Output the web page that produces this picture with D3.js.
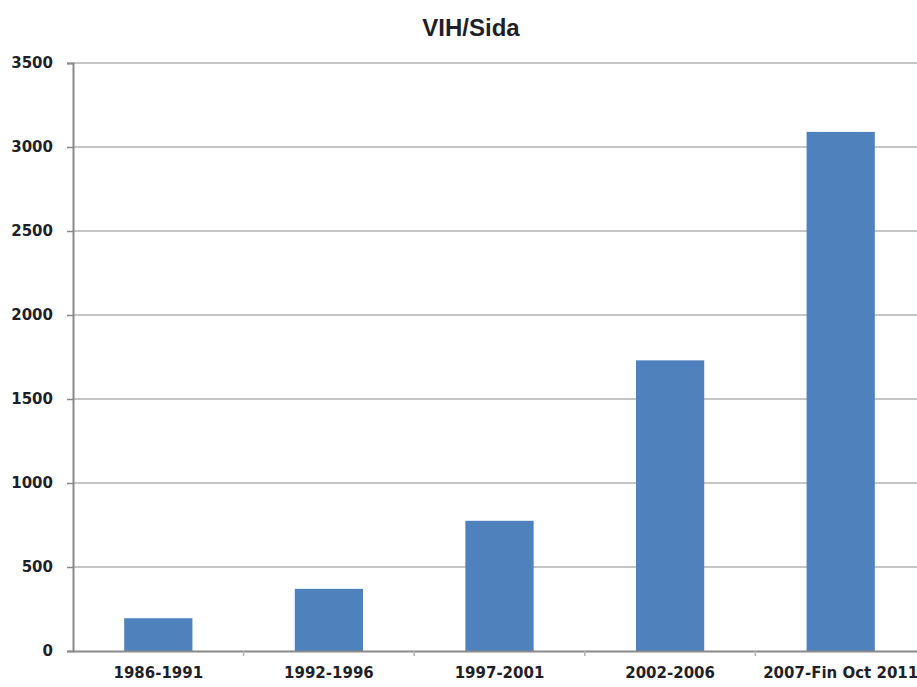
<!DOCTYPE html>
<html lang='en'>
	<head>
		<meta charset='UTF-8'>
		<title>VIH/Sida</title>
		<style>
			body { margin: 0; background: #fff; }
			text { font-family: 'Liberation Sans', Arial, sans-serif; font-weight: bold; fill: #1f1f2a; }
			.tick text { font-family: 'DejaVu Sans', sans-serif; }
		</style>
	</head>
	<body>
		<svg id='graph' width='917' height='687'></svg>

		<script src='https://d3js.org/d3.v7.min.js'></script>
		<script>
			const periods = ['1986-1991', '1992-1996', '1997-2001', '2002-2006', '2007-Fin Oct 2011']
			const cases = [195, 370, 775, 1730, 3090]
			const yTicks = [0, 500, 1000, 1500, 2000, 2500, 3000, 3500]

			const plotLeft = 73
			const plotRight = 926
			const plotTop = 63
			const plotBottom = 651

			const svg = d3.select('#graph')

			const xScale = d3.scaleBand()
				.domain(periods)
				.range([plotLeft, plotRight])
				.paddingInner(0.6)
				.paddingOuter(0.3)
			const yScale = d3.scaleLinear()
				.domain([0, 3500])
				.range([plotBottom, plotTop])

			// gridlines
			svg.append('g')
				.selectAll('line')
				.data(yTicks.slice(1))
				.enter()
				.append('line')
				.attr('x1', plotLeft)
				.attr('x2', plotRight)
				.attr('y1', (d) => yScale(d))
				.attr('y2', (d) => yScale(d))
				.attr('stroke', '#b3b3b3')
				.attr('stroke-width', 1.5)

			// bars
			svg.selectAll('rect')
				.data(periods)
				.enter()
				.append('rect')
				.attr('x', (p) => xScale(p))
				.attr('y', (p, i) => yScale(cases[i]))
				.attr('width', xScale.bandwidth())
				.attr('height', (p, i) => plotBottom - yScale(cases[i]))
				.attr('fill', '#4f81bd')

			// y axis
			const yAxis = d3.axisLeft(yScale)
				.tickValues(yTicks)
				.tickFormat(d3.format('d'))
				.tickSize(6)
				.tickPadding(14)
			const yG = svg.append('g')
				.attr('transform', `translate(${plotLeft}, 0)`)
				.call(yAxis)
			yG.select('.domain').attr('stroke', '#8a8a8a').attr('stroke-width', 2)
			yG.selectAll('.tick line').attr('stroke', '#8a8a8a').attr('stroke-width', 1.5)
			yG.selectAll('.tick text')
				.attr('font-family', null)
				.attr('font-size', 15)
				.attr('fill', null)

			// x axis
			const xAxis = d3.axisBottom(xScale)
				.tickSize(0)
				.tickPadding(16)
			const xG = svg.append('g')
				.attr('transform', `translate(0, ${plotBottom})`)
				.call(xAxis)
			xG.select('.domain').attr('stroke', '#8a8a8a').attr('stroke-width', 2)
			xG.selectAll('.tick text')
				.attr('font-family', null)
				.attr('font-size', 15)
				.attr('fill', null)

			// category separators
			xG.selectAll('.sep')
				.data(periods.slice(1))
				.enter()
				.append('line')
				.attr('x1', (p) => xScale(p) - xScale.step() * xScale.paddingInner() / 2)
				.attr('x2', (p) => xScale(p) - xScale.step() * xScale.paddingInner() / 2)
				.attr('y1', 0)
				.attr('y2', 5)
				.attr('stroke', '#b3b3b3')
				.attr('stroke-width', 1.5)

			svg.append('text')
				.attr('x', 471)
				.attr('y', 36)
				.attr('text-anchor', 'middle')
				.attr('font-size', 24)
				.text('VIH/Sida')
		</script>
	</body>
</html>
